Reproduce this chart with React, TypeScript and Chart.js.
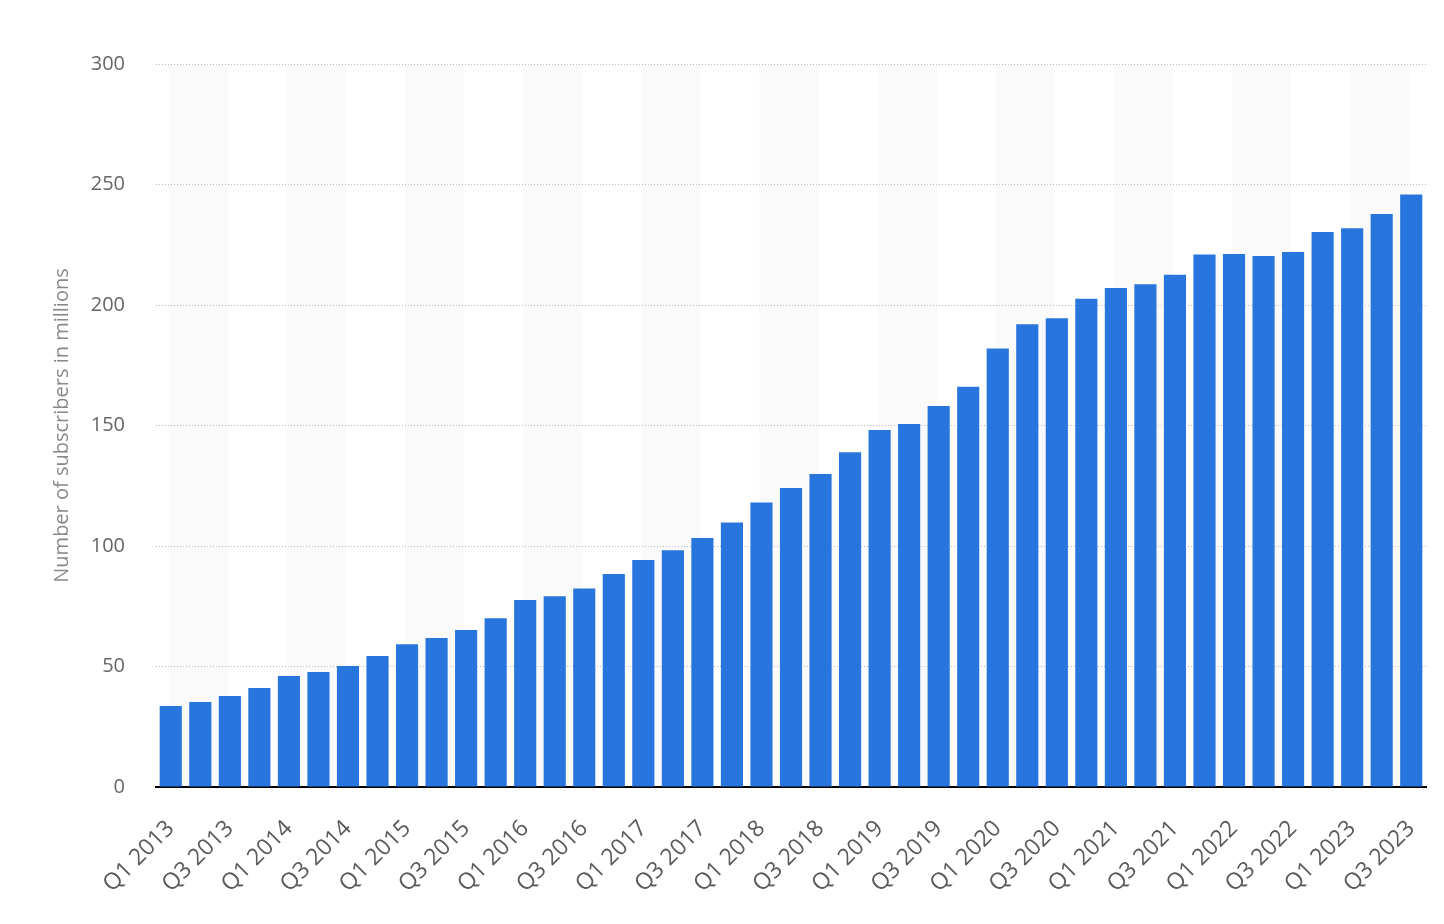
import React, { useEffect, useRef } from "react";
import { Chart, registerables } from "chart.js";

Chart.register(...registerables);

const categories: string[] = [
  "Q1 2013", "Q2 2013", "Q3 2013", "Q4 2013",
  "Q1 2014", "Q2 2014", "Q3 2014", "Q4 2014",
  "Q1 2015", "Q2 2015", "Q3 2015", "Q4 2015",
  "Q1 2016", "Q2 2016", "Q3 2016", "Q4 2016",
  "Q1 2017", "Q2 2017", "Q3 2017", "Q4 2017",
  "Q1 2018", "Q2 2018", "Q3 2018", "Q4 2018",
  "Q1 2019", "Q2 2019", "Q3 2019", "Q4 2019",
  "Q1 2020", "Q2 2020", "Q3 2020", "Q4 2020",
  "Q1 2021", "Q2 2021", "Q3 2021", "Q4 2021",
  "Q1 2022", "Q2 2022", "Q3 2022", "Q4 2022",
  "Q1 2023", "Q2 2023", "Q3 2023",
];

const subscribers: number[] = [
  33.6, 35.3, 37.8, 41.1,
  46.1, 47.7, 50.2, 54.4,
  59.2, 61.8, 65.1, 70.0,
  77.6, 79.1, 82.4, 88.4,
  94.2, 98.2, 103.3, 109.8,
  118.1, 124.1, 129.9, 138.9,
  148.1, 150.6, 158.1, 166.1,
  182.0, 192.0, 194.5, 202.6,
  207.1, 208.6, 212.6, 221.0,
  221.2, 220.3, 222.0, 230.3,
  231.8, 237.8, 245.9,
];

const yTicks: number[] = [0, 50, 100, 150, 200, 250, 300];
const yTitle = "Number of subscribers in millions";

const FONT = "'Open Sans', 'Noto Sans', sans-serif";

const bandsPlugin = {
  id: "bands",
  beforeDraw(chart: any) {
    const { ctx, chartArea, scales } = chart;
    const x = scales.x;
    ctx.save();
    ctx.fillStyle = "#fafafa";
    for (let i = 0; i < categories.length; i += 4) {
      const a = x.getPixelForValue(i) - 2;
      const bIdx = Math.min(i + 2, categories.length - 1);
      const b = x.getPixelForValue(bIdx) - 2;
      ctx.fillRect(a, chartArea.top, b - a, chartArea.bottom - chartArea.top);
    }
    ctx.restore();
  },
};

export default function App() {
  const ref = useRef<HTMLCanvasElement | null>(null);

  useEffect(() => {
    if (!ref.current) return;
    const chart = new Chart(ref.current, {
      type: "bar",
      data: {
        labels: categories,
        datasets: [
          {
            data: subscribers,
            backgroundColor: "#2876dd",
            borderWidth: 0,
            barPercentage: 0.75,
            categoryPercentage: 1,
          },
        ],
      },
      options: {
        animation: false,
        responsive: true,
        maintainAspectRatio: false,
        layout: { padding: { top: 64, right: 18, left: 0, bottom: 0 } },
        plugins: {
          legend: { display: false },
          tooltip: { enabled: false },
        },
        scales: {
          x: {
            grid: { display: false, drawTicks: false },
            border: { display: true, color: "#000", width: 2 },
            afterFit: (s: any) => {
              s.height = 137;
              s.paddingLeft = 0;
              s.paddingRight = 0;
            },
            ticks: {
              autoSkip: false,
              maxRotation: 45,
              minRotation: 45,
              padding: 28,
              color: "#5a5a5a",
              font: { family: FONT, size: 23 },
              callback: (_v: any, i: number) => (i % 2 === 0 ? categories[i] : ""),
            },
          },
          y: {
            min: 0,
            max: 300,
            afterBuildTicks: (s: any) => {
              s.ticks = yTicks.map((v) => ({ value: v }));
            },
            afterFit: (s: any) => {
              s.width = 156;
              s.paddingTop = 0;
              s.paddingBottom = 0;
            },
            grid: { color: "#bbbbbb", drawTicks: false, lineWidth: 1 },
            border: { display: false, dash: [1, 2] },
            ticks: {
              padding: 31,
              color: "#666",
              font: { family: FONT, size: 20 },
            },
            title: {
              display: true,
              text: yTitle,
              color: "#888",
              font: { family: FONT, size: 20 },
              padding: { top: 50, bottom: 0 },
            },
          },
        },
      },
      plugins: [bandsPlugin],
    });
    return () => chart.destroy();
  }, []);

  return (
    <div style={{ position: "fixed", left: 0, top: 0, width: 1444, height: 924, background: "#fff" }}>
      <canvas ref={ref} />
    </div>
  );
}
